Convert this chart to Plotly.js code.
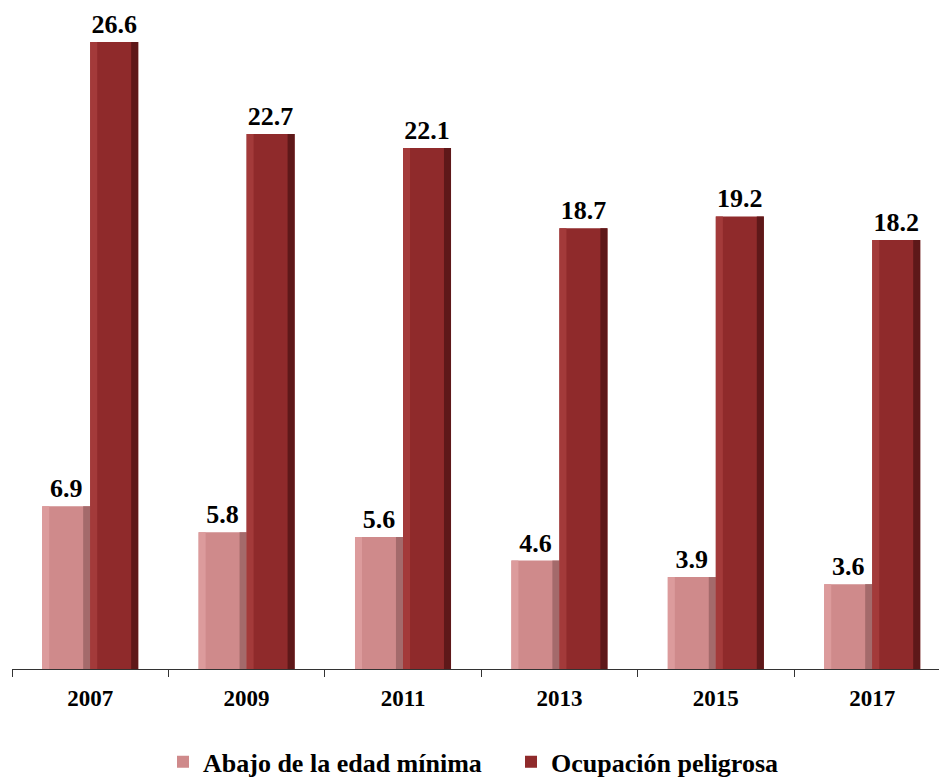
<!DOCTYPE html>
<html>
<head>
<meta charset="utf-8">
<script src="https://cdn.plot.ly/plotly-3.0.1.min.js"></script>
<style>
  html, body { margin: 0; padding: 0; background: #ffffff; }
  #chart { width: 939px; height: 779px; }
</style>
</head>
<body>
<div id="chart"></div>
<script>
// Years shown on the category axis
const years = ['2007', '2009', '2011', '2013', '2015', '2017'];

// Series values (percent)
const abajoEdad = [6.9, 5.8, 5.6, 4.6, 3.9, 3.6];
const ocupacionPeligrosa = [26.6, 22.7, 22.1, 18.7, 19.2, 18.2];

// Series names
const seriesNames = ['Abajo de la edad mínima', 'Ocupación peligrosa'];

const serif = 'Liberation Serif';

// Bar geometry in category units: each bar is BAR_W wide, the two series
// sit side by side around the category centre. EDGE is the bevel strip.
const BAR_W = 0.307;
const EDGE = 0.045;

// One series = a main face bar (carries the label and legend entry)
// plus a light left bevel strip and a dark right bevel strip.
function seriesTraces(name, values, offset, colors) {
  const main = {
    type: 'bar',
    name: name,
    x: years,
    y: values,
    offset: offset,
    width: BAR_W,
    text: values.map(v => v.toFixed(1)),
    textposition: 'outside',
    cliponaxis: false,
    textfont: { family: serif, size: 26, color: '#000000', weight: 'bold' },
    marker: { color: colors.face, line: { width: 0 } },
    hoverinfo: 'x+y+name'
  };
  const left = {
    type: 'bar',
    name: name,
    x: years,
    y: values,
    offset: offset,
    width: EDGE,
    showlegend: false,
    hoverinfo: 'skip',
    marker: { color: colors.light, line: { width: 0 } }
  };
  const right = {
    type: 'bar',
    name: name,
    x: years,
    y: values,
    offset: offset + BAR_W - EDGE,
    width: EDGE,
    showlegend: false,
    hoverinfo: 'skip',
    marker: { color: colors.shade, line: { width: 0 } }
  };
  return [main, left, right];
}

const data = [
  ...seriesTraces(seriesNames[0], abajoEdad, -BAR_W,
    { face: '#cf8a8b', light: '#dc9b9c', shade: '#a46a6b' }),
  ...seriesTraces(seriesNames[1], ocupacionPeligrosa, 0,
    { face: '#8f2a2b', light: '#a33a3a', shade: '#5e1819' })
];

const layout = {
  width: 939,
  height: 779,
  font: { family: serif, color: '#000000', weight: 'bold' },
  margin: { l: 12, r: 0, t: 9, b: 110, autoexpand: false },
  paper_bgcolor: '#ffffff',
  plot_bgcolor: '#ffffff',
  barmode: 'overlay',
  showlegend: true,
  legend: {
    orientation: 'h',
    x: 0.1736,
    xref: 'container',
    xanchor: 'left',
    y: 0.022,
    yref: 'container',
    yanchor: 'middle',
    entrywidth: 303,
    entrywidthmode: 'pixels',
    font: { family: serif, size: 26, color: '#000000', weight: 'bold' },
    traceorder: 'normal'
  },
  xaxis: {
    type: 'category',
    range: [-0.5, 5.427],
    showline: true,
    linecolor: '#333333',
    linewidth: 1,
    ticks: 'outside',
    tickson: 'boundaries',
    ticklen: 7,
    tickcolor: '#333333',
    ticklabelstandoff: 8,
    tickfont: { family: serif, size: 23, color: '#000000', weight: 'bold' },
    showgrid: false,
    zeroline: false
  },
  yaxis: {
    range: [0, 28],
    visible: false,
    showgrid: false,
    zeroline: false
  }
};

Plotly.newPlot('chart', data, layout, { displayModeBar: false, staticPlot: true });
</script>
</body>
</html>
